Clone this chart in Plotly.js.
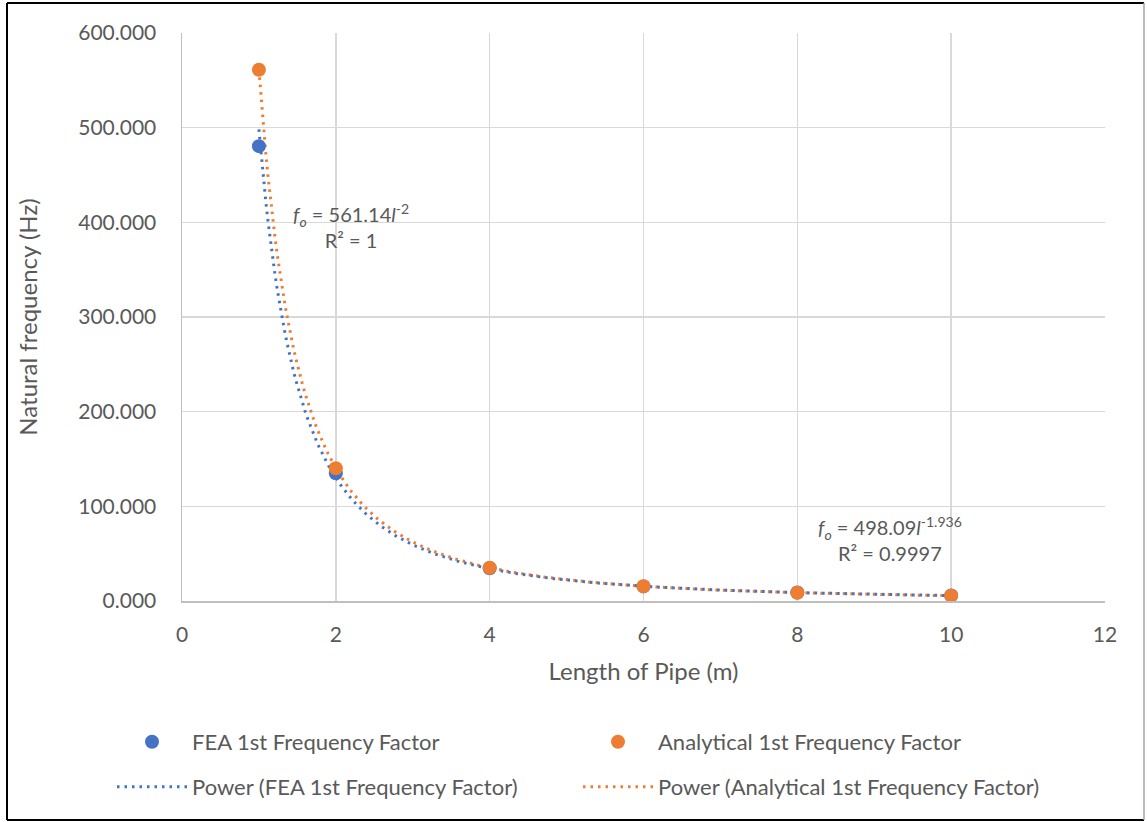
<!DOCTYPE html>
<html>
<head>
<meta charset="utf-8">
<script src="https://cdn.plot.ly/plotly-3.0.1.min.js"></script>
<style>
  html, body { margin: 0; padding: 0; background: #fff; }
  #chart { width: 1147px; height: 822px; }
</style>
</head>
<body>
<div id="chart"></div>
<script>
// Pipe lengths (m)
const lengths = [1, 2, 4, 6, 8, 10];
// FEA 1st natural frequency (Hz)
const feaFreq = [480.5, 135.0, 34.6, 15.4, 8.9, 5.8];
// Analytical 1st natural frequency (Hz)
const analyticalFreq = [561.14, 140.29, 35.07, 15.59, 8.77, 5.61];
// Power trendline coefficients shown on the chart: f = a * l^b
const feaFit = { a: 498.09, b: -1.936 };
const analyticalFit = { a: 561.14, b: -2 };
// Series names
const names = ['FEA 1st Frequency Factor', 'Analytical 1st Frequency Factor',
               'Power (FEA 1st Frequency Factor)', 'Power (Analytical 1st Frequency Factor)'];

const blue = '#4472C4', orange = '#ED7D31', txt = '#595959';
const FONT = 'Lato, "Open Sans", sans-serif';

// trendline curves evaluated along the data's x span
function trend(fit) {
  const xs = [], ys = [];
  const x0 = Math.min(...lengths), x1 = Math.max(...lengths);
  for (let i = 0; i <= 300; i++) {
    const x = x0 + (x1 - x0) * i / 300;
    xs.push(x); ys.push(fit.a * Math.pow(x, fit.b));
  }
  return { xs, ys };
}
const tF = trend(feaFit), tA = trend(analyticalFit);

const traces = [
  { x: tA.xs, y: tA.ys, mode: 'lines', name: names[3], legend: 'legend4',
    line: { color: orange, width: 3, dash: '2.5px,5px' }, hoverinfo: 'skip' },
  { x: tF.xs, y: tF.ys, mode: 'lines', name: names[2], legend: 'legend3',
    line: { color: blue, width: 3, dash: '2.5px,5px' }, hoverinfo: 'skip' },
  { x: lengths, y: feaFreq, mode: 'markers', name: names[0], legend: 'legend',
    marker: { color: blue, size: 14 } },
  { x: lengths, y: analyticalFreq, mode: 'markers', name: names[1], legend: 'legend2',
    marker: { color: orange, size: 14 } }
];

// pixel helpers for paper coords (plot area: x 182..1105, y 33..601)
const L = 182, R = 42, T = 33, B = 221, W = 1147, H = 822;
const pw = W - L - R, ph = H - T - B;
const px = v => (v - L) / pw;
const py = v => (H - B - v) / ph;

function leg(x, y) {
  return { x: px(x), y: py(y), xanchor: 'left', yanchor: 'middle', orientation: 'h',
    bgcolor: 'rgba(0,0,0,0)', itemwidth: 70, font: { family: FONT, size: 22, color: txt } };
}

const layout = {
  width: W, height: H,
  margin: { l: L, r: R, t: T, b: B },
  paper_bgcolor: '#fff', plot_bgcolor: '#fff',
  font: { family: FONT, size: 21, color: txt },
  showlegend: true,
  xaxis: {
    range: [0, 12], dtick: 2, tick0: 0,
    showgrid: true, gridcolor: '#d9d9d9', gridwidth: 1.5,
    showline: true, linecolor: '#bfbfbf', linewidth: 1.5,
    zeroline: false, ticks: '', ticklabelstandoff: 14,
    tickfont: { family: FONT, size: 21, color: txt },
    title: { text: 'Length of Pipe (m)', font: { family: FONT, size: 24, color: txt }, standoff: 18 }
  },
  yaxis: {
    range: [0, 600], dtick: 100, tick0: 0, tickformat: '.3f',
    showgrid: true, gridcolor: '#d9d9d9', gridwidth: 1.5,
    showline: true, linecolor: '#bfbfbf', linewidth: 1.5,
    zeroline: false, ticks: '', ticklabelstandoff: 20,
    tickfont: { family: FONT, size: 21, color: txt },
    title: { text: 'Natural frequency (Hz)', font: { family: FONT, size: 24, color: txt }, standoff: 34 }
  },
  legend: leg(112, 742),
  legend2: leg(578, 742),
  legend3: leg(112, 787),
  legend4: leg(578, 787),
  annotations: [
    { x: 2.2, y: 396, xref: 'x', yref: 'y', showarrow: false, align: 'center',
      text: '<i>f<sub>o</sub></i> = 561.14<i>l</i><sup>-2</sup><br>R² = 1',
      font: { family: FONT, size: 20, color: txt } },
    { x: 9.2, y: 66, xref: 'x', yref: 'y', showarrow: false, align: 'center',
      text: '<i>f<sub>o</sub></i> = 498.09<i>l</i><sup>-1.936</sup><br>R² = 0.9997',
      font: { family: FONT, size: 20, color: txt } }
  ],
  shapes: [
    { type: 'line', xref: 'paper', yref: 'paper', x0: px(7), x1: px(1144), y0: py(3), y1: py(3), line: { color: '#000', width: 2 } },
    { type: 'line', xref: 'paper', yref: 'paper', x0: px(7), x1: px(7), y0: py(3), y1: py(820), line: { color: '#000', width: 2 } },
    { type: 'line', xref: 'paper', yref: 'paper', x0: px(7), x1: px(1144), y0: py(820), y1: py(820), line: { color: '#000', width: 2 } },
    { type: 'line', xref: 'paper', yref: 'paper', x0: px(1144), x1: px(1144), y0: py(3), y1: py(820), line: { color: '#a6a6a6', width: 1.5 } }
  ]
};

Plotly.newPlot('chart', traces, layout, { displayModeBar: false, staticPlot: true });
</script>
</body>
</html>
